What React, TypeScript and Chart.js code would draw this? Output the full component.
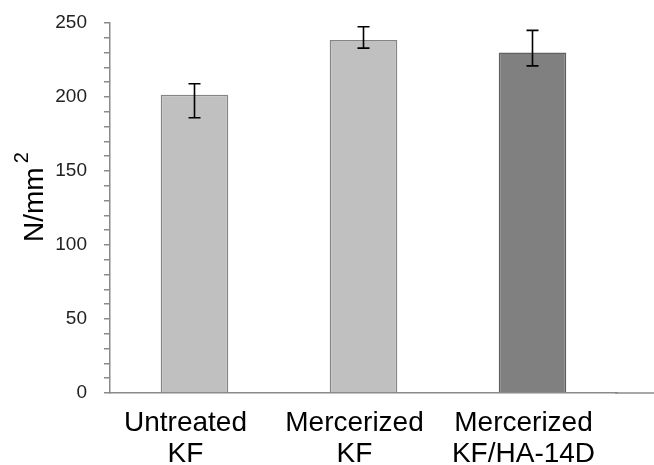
import React, { useEffect, useRef } from "react";
import { Chart, registerables } from "chart.js";

Chart.register(...registerables);

const categories: string[][] = [
  ["Untreated", "KF"],
  ["Mercerized", "KF"],
  ["Mercerized", "KF/HA-14D"],
];
const values: number[] = [201.5, 238.5, 230];
const errHigh: number[] = [209, 247.5, 245];
const errLow: number[] = [186, 233, 221];
const barColors: string[] = ["#c0c0c0", "#c0c0c0", "#808080"];
const borderColors: string[] = ["#858585", "#858585", "#606060"];
const yTickLabels: number[] = [0, 50, 100, 150, 200, 250];

const errorBarPlugin = {
  id: "errorBars",
  afterDatasetsDraw(chart: any) {
    const ctx = chart.ctx;
    const meta = chart.getDatasetMeta(0);
    const y = chart.scales.y;
    ctx.save();
    ctx.strokeStyle = "#000";
    ctx.lineWidth = 1.6;
    meta.data.forEach((bar: any, i: number) => {
      const x = bar.x;
      const yh = y.getPixelForValue(errHigh[i]);
      const yl = y.getPixelForValue(errLow[i]);
      ctx.beginPath();
      ctx.moveTo(x, yh);
      ctx.lineTo(x, yl);
      ctx.moveTo(x - 6, yh);
      ctx.lineTo(x + 6, yh);
      ctx.moveTo(x - 6, yl);
      ctx.lineTo(x + 6, yl);
      ctx.stroke();
    });
    ctx.restore();
  },
};

const extrasPlugin = {
  id: "extras",
  afterDraw(chart: any) {
    const ctx = chart.ctx;
    const area = chart.chartArea;
    ctx.save();
    ctx.strokeStyle = "#8a8a8a";
    ctx.lineWidth = 1.5;
    ctx.beginPath();
    ctx.moveTo(area.right - 2, area.bottom);
    ctx.lineTo(chart.width, area.bottom);
    ctx.stroke();
    ctx.fillStyle = "#000";
    ctx.translate(43, 242);
    ctx.rotate(-Math.PI / 2);
    ctx.textAlign = "left";
    ctx.textBaseline = "alphabetic";
    ctx.font = "28px Arial, 'Liberation Sans', sans-serif";
    ctx.fillText("N/mm", 0, 0);
    const w = ctx.measureText("N/mm").width;
    ctx.font = "20px Arial, 'Liberation Sans', sans-serif";
    ctx.fillText("2", w + 4, -15);
    ctx.restore();
  },
};

export default function App() {
  const ref = useRef<HTMLCanvasElement | null>(null);
  useEffect(() => {
    if (!ref.current) return;
    const chart = new Chart(ref.current, {
      type: "bar",
      data: {
        labels: categories,
        datasets: [
          {
            data: values,
            backgroundColor: barColors,
            borderColor: borderColors,
            borderWidth: 1.5,
            barPercentage: 0.4,
            categoryPercentage: 1,
          },
        ],
      },
      options: {
        animation: false,
        responsive: false,
        maintainAspectRatio: false,
        layout: { padding: { top: 23, right: 37, left: 0, bottom: 0 } },
        plugins: { legend: { display: false }, tooltip: { enabled: false } },
        scales: {
          x: {
            grid: { display: false },
            border: { display: true, color: "#8a8a8a", width: 1.5 },
            ticks: {
              color: "#000",
              font: { family: "Arial, 'Liberation Sans', sans-serif", size: 28, lineHeight: 1.1 },
              padding: 7,
              labelOffset: -9,
              maxRotation: 0,
              autoSkip: false,
            },
            afterFit(scale: any) {
              scale.height = 72;
              scale.paddingLeft = 0;
              scale.paddingRight = 0;
            },
          },
          y: {
            min: 0,
            max: 250,
            grid: {
              drawOnChartArea: false,
              drawTicks: true,
              tickLength: 6,
              color: "#8a8a8a",
              lineWidth: 1.5,
            },
            border: { display: true, color: "#8a8a8a", width: 1.5 },
            ticks: {
              stepSize: 10,
              autoSkip: false,
              color: "#222",
              padding: 17,
              font: { family: "Arial, 'Liberation Sans', sans-serif", size: 19 },
              callback: (v: any) => (yTickLabels.includes(Number(v)) ? String(v) : ""),
            },
            afterFit(scale: any) {
              scale.width = 110;
              scale.paddingTop = 0;
              scale.paddingBottom = 0;
            },
          },
        },
      },
      plugins: [errorBarPlugin, extrasPlugin],
    });
    return () => chart.destroy();
  }, []);
  return (
    <div style={{ position: "absolute", left: 0, top: 0, width: 654, height: 465 }}>
      <canvas ref={ref} width={654} height={465} style={{ width: 654, height: 465 }} />
    </div>
  );
}
